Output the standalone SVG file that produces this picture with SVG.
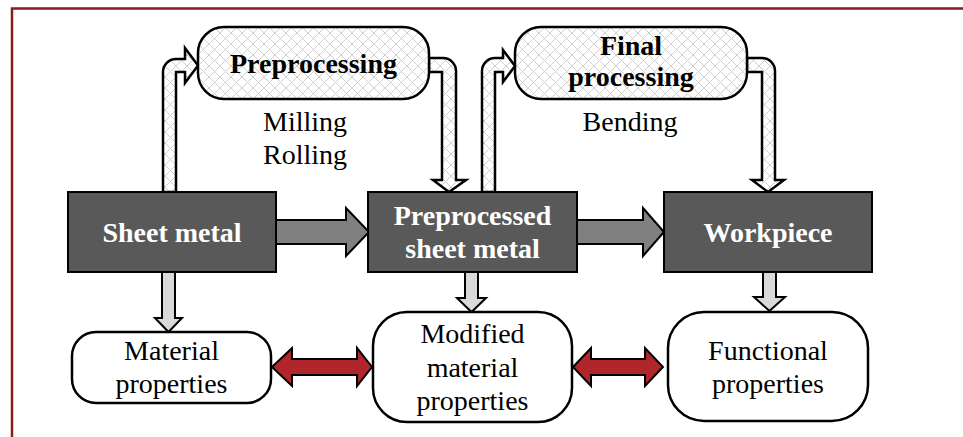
<svg xmlns="http://www.w3.org/2000/svg" width="963" height="437" viewBox="0 0 963 437">
<defs>
<pattern id="hatch" width="11" height="11" patternUnits="userSpaceOnUse">
<rect width="11" height="11" fill="#ffffff"/>
<path d="M0,0 L11,11 M11,0 L0,11" stroke="#cfcfcf" stroke-width="1"/>
</pattern>
<style>
.frame{fill:none;stroke:#8b1a1a;stroke-width:2.5}
.dark{fill:#595959;stroke:#000;stroke-width:2}
.proc{fill:url(#hatch);stroke:#000;stroke-width:2.5}
.prop{fill:#fff;stroke:#000;stroke-width:2.5}
.hat{fill:url(#hatch);stroke:#000;stroke-width:2.5;stroke-linejoin:miter}
.gray{fill:#808080;stroke:#000;stroke-width:2}
.light{fill:#d9d9d9;stroke:#000;stroke-width:2}
.red{fill:#b0262b;stroke:#000;stroke-width:2}
text{font-family:"Liberation Serif","Times New Roman",serif;font-size:28px;text-anchor:middle}
.b{font-weight:bold}
.w{fill:#fff;font-weight:bold}
</style>
</defs>
<rect width="963" height="437" fill="#fff"/>
<path class="frame" d="M12,445 V8.5 H975"/>
<g id="connectors">
<path class="hat" d="M163,192 V72 A13,13 0 0 1 176,59 H185 V48 L198,65.5 L185,83 V72 H176 V192 Z"/>
<path class="hat" d="M429,58 H443 A13,13 0 0 1 456,71 V180 H466 L449,192 L433,180 H442 V72 H429 Z"/>
<path class="hat" d="M482,192 V71 A13,13 0 0 1 495,58 H503 V50 L515,66 L503,82 V72 H495 V192 Z"/>
<path class="hat" d="M747,58 H762 A13,13 0 0 1 775,71 V180 H784 L768,192 L752,180 H762 V72 H747 Z"/>
<path class="gray" d="M276,220 H346 V208 L369,232 L346,256 V244 H276 Z"/>
<path class="gray" d="M577,220 H643 V208 L664,232 L643,256 V244 H577 Z"/>
<path class="light" d="M162,272 V318 H155 L168.5,332 L182,318 H175 V272 Z"/>
<path class="light" d="M465,272 V298 H457 L471.5,312 L486,298 H478 V272 Z"/>
<path class="light" d="M763,272 V297 H754 L769.5,311 L785,297 H776 V272 Z"/>
<path class="red" d="M272,367 L292,348 V359 H357 V348 L372,367 L357,386 V375 H292 V386 Z"/>
<path class="red" d="M573,367 L591,348 V359 H645 V348 L663,367 L645,386 V375 H591 V386 Z"/>
</g>
<g id="preprocessing">
<rect class="proc" x="198" y="27" width="231" height="72" rx="26"/>
<text class="b" x="313.5" y="73">Preprocessing</text>
</g>
<g id="preprocessing-methods">
<text x="305" y="131">Milling</text>
<text x="305" y="164">Rolling</text>
</g>
<g id="final-processing">
<rect class="proc" x="515" y="27" width="232" height="72" rx="26"/>
<text class="b" x="631" y="55">Final</text>
<text class="b" x="631" y="86">processing</text>
</g>
<g id="final-methods">
<text x="630" y="131">Bending</text>
</g>
<g id="sheet-metal">
<rect class="dark" x="68" y="192" width="208" height="80"/>
<text class="w" x="172" y="242">Sheet metal</text>
</g>
<g id="preprocessed-sheet-metal">
<rect class="dark" x="368" y="192" width="209" height="80"/>
<text class="w" x="472.5" y="225">Preprocessed</text>
<text class="w" x="472.5" y="258">sheet metal</text>
</g>
<g id="workpiece">
<rect class="dark" x="664" y="192" width="208" height="80"/>
<text class="w" x="768" y="242">Workpiece</text>
</g>
<g id="material-properties">
<rect class="prop" x="72" y="332" width="199" height="71" rx="24"/>
<text x="171.5" y="360">Material</text>
<text x="171.5" y="393">properties</text>
</g>
<g id="modified-material-properties">
<rect class="prop" x="373" y="312" width="199" height="110" rx="34"/>
<text x="472.5" y="343">Modified</text>
<text x="472.5" y="377">material</text>
<text x="472.5" y="410">properties</text>
</g>
<g id="functional-properties">
<rect class="prop" x="668" y="312" width="200" height="109" rx="36"/>
<text x="768" y="360">Functional</text>
<text x="768" y="393">properties</text>
</g>
</svg>
